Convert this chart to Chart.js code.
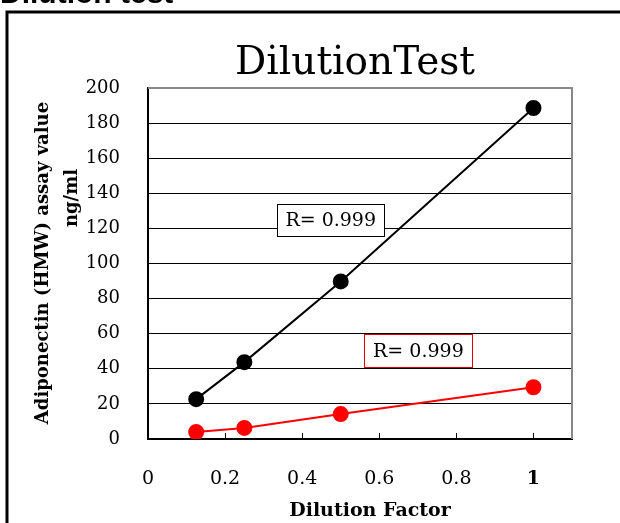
<!DOCTYPE html>
<html>
<head>
<meta charset="utf-8">
<script src="https://cdn.jsdelivr.net/npm/chart.js@4/dist/chart.umd.min.js"></script>
<style>
  body { margin: 0; background: #fff; }
  #wrap { width: 620px; height: 523px; }
</style>
</head>
<body>
<div id="wrap"><canvas id="Estadistica" width="620" height="523"></canvas></div>
<script>
// data
const factores = [0.125, 0.25, 0.5, 1];
const serieNegra = [22.7, 43.8, 89.8, 188.6];
const serieRoja = [4.0, 6.3, 14.2, 29.5];
const ticksX = [0, 0.2, 0.4, 0.6, 0.8, 1];
const textoR = ['R= 0.999', 'R= 0.999'];

const serif = '"DejaVu Serif", "Liberation Serif", serif';

function puntos(vals) {
  return factores.map((f, i) => ({ x: f, y: vals[i] }));
}

// frame, titles, boxes and inner ticks
const extras = {
  id: 'extras',
  beforeDraw(chart) {
    const c = chart.ctx;
    c.save();
    c.fillStyle = '#fff';
    c.fillRect(0, 0, chart.width, chart.height);
    // outer frame
    c.strokeStyle = '#000';
    c.lineWidth = 3;
    c.beginPath();
    c.moveTo(7, 530);
    c.lineTo(7, 12);
    c.lineTo(630, 12);
    c.stroke();
    // cut off heading
    c.fillStyle = '#000';
    c.font = 'bold 30px "Liberation Sans", Arial, sans-serif';
    c.textBaseline = 'alphabetic';
    c.fillText('Dilution test', 0, 3);
    c.restore();
  },
  afterDraw(chart) {
    const c = chart.ctx;
    const a = chart.chartArea;
    const sx = chart.scales.x;
    const sy = chart.scales.y;
    c.save();
    // grey top/right border
    c.strokeStyle = '#888';
    c.lineWidth = 2;
    c.beginPath();
    c.moveTo(a.left, a.top);
    c.lineTo(a.right, a.top);
    c.lineTo(a.right, a.bottom);
    c.stroke();
    // x tick marks pointing inward
    c.strokeStyle = '#000';
    c.lineWidth = 1;
    ticksX.forEach(t => {
      if (t === 0) return;
      const px = Math.round(sx.getPixelForValue(t)) + 0.5;
      c.beginPath();
      c.moveTo(px, a.bottom);
      c.lineTo(px, a.bottom - 6);
      c.stroke();
    });
    // chart title
    c.fillStyle = '#000';
    c.textAlign = 'center';
    c.textBaseline = 'alphabetic';
    c.font = '39px ' + serif;
    c.fillText('DilutionTest', 355, 74);
    // x title
    c.font = 'bold 19px ' + serif;
    c.textBaseline = 'middle';
    c.fillText('Dilution Factor', 370, 511);
    // y title, two lines
    c.save();
    c.translate(43, 263);
    c.rotate(-Math.PI / 2);
    c.font = 'bold 18px ' + serif;
    c.fillText('Adiponectin (HMW) assay value', 0, 0);
    c.restore();
    c.save();
    c.translate(72, 198);
    c.rotate(-Math.PI / 2);
    c.font = 'bold 18px ' + serif;
    c.fillText('ng/ml', 0, 0);
    c.restore();
    // R boxes
    const cajas = [
      { x0: 0.335, y0: 134, x1: 0.613, y1: 115.9, color: '#000' },
      { x0: 0.561, y0: 59.7, x1: 0.842, y1: 40.9, color: '#e00000' }
    ];
    cajas.forEach((b, i) => {
      const l = sx.getPixelForValue(b.x0), r = sx.getPixelForValue(b.x1);
      const t = sy.getPixelForValue(b.y0), btm = sy.getPixelForValue(b.y1);
      c.fillStyle = '#fff';
      c.fillRect(l, t, r - l, btm - t);
      c.strokeStyle = b.color;
      c.lineWidth = 1;
      c.strokeRect(Math.round(l) + 0.5, Math.round(t) + 0.5, Math.round(r - l), Math.round(btm - t));
      c.fillStyle = '#000';
      c.font = '19px ' + serif;
      c.textAlign = 'center';
      c.textBaseline = 'middle';
      c.fillText(textoR[i], (l + r) / 2, (t + btm) / 2 + 1);
    });
    c.restore();
  }
};

const ctx = document.getElementById('Estadistica');

new Chart(ctx, {
  type: 'scatter',
  data: {
    datasets: [{
      label: 'HMW',
      data: puntos(serieNegra),
      showLine: true,
      borderColor: '#000',
      backgroundColor: '#000',
      borderWidth: 2,
      pointRadius: 7,
      pointHoverRadius: 7
    }, {
      label: 'HMW 2',
      data: puntos(serieRoja),
      showLine: true,
      borderColor: '#ff0000',
      backgroundColor: '#ff0000',
      borderWidth: 2,
      pointRadius: 7,
      pointHoverRadius: 7
    }]
  },
  options: {
    responsive: false,
    animation: false,
    events: [],
    layout: { padding: { left: 0, top: 88, right: 48, bottom: 0 } },
    plugins: {
      legend: { display: false },
      tooltip: { enabled: false }
    },
    scales: {
      x: {
        type: 'linear',
        min: 0,
        max: 1.1,
        afterFit: s => { s.height = 84; },
        afterBuildTicks: s => { s.ticks = ticksX.map(v => ({ value: v })); },
        border: { color: '#000', width: 2 },
        grid: { display: false, drawTicks: false },
        ticks: {
          padding: 29,
          color: '#000',
          font: c => ({ family: serif, size: 19, weight: c.tick && c.tick.value === 1 ? 'bold' : 'normal' }),
          callback: v => String(v)
        }
      },
      y: {
        min: 0,
        max: 200,
        afterFit: s => { s.width = 148; },
        border: { color: '#000', width: 2 },
        grid: {
          drawTicks: false,
          color: c => (c.tick && (c.tick.value === 200 || c.tick.value === 0)) ? 'rgba(0,0,0,0)' : '#000',
          lineWidth: 1
        },
        ticks: {
          stepSize: 20,
          padding: 28,
          color: '#000',
          font: { family: serif, size: 18 }
        }
      }
    }
  },
  plugins: [extras]
});
</script>
</body>
</html>
